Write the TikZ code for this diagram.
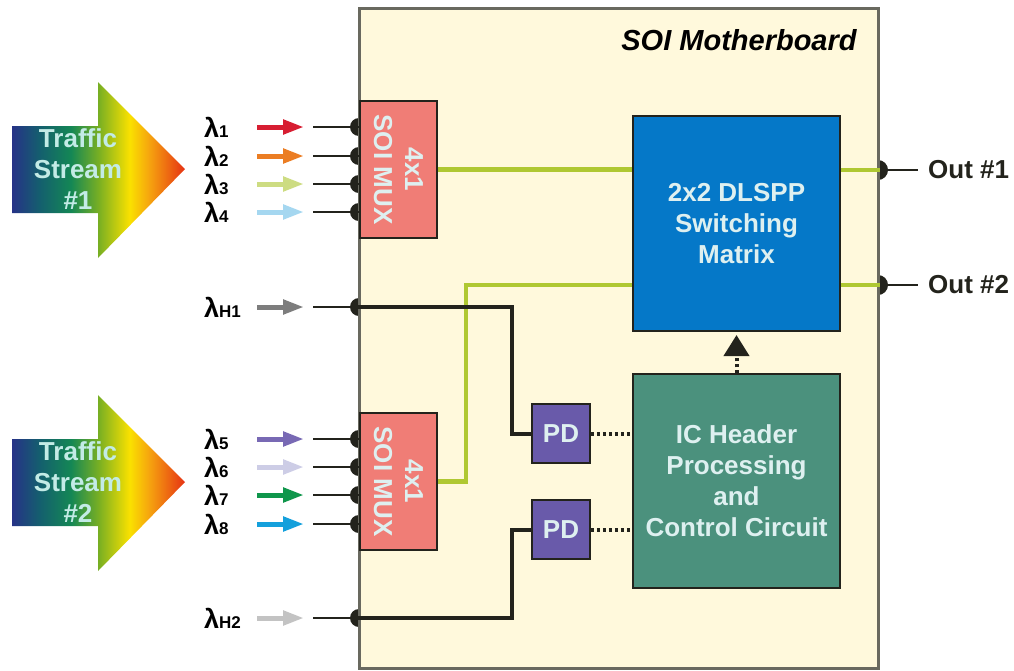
\documentclass[tikz,border=0pt]{standalone}
\usepackage{fontspec}
\setmainfont{Liberation Sans}
\usetikzlibrary{arrows.meta}
\definecolor{boardfill}{RGB}{255,249,220}
\definecolor{boardline}{RGB}{105,105,95}
\definecolor{muxred}{RGB}{240,125,118}
\definecolor{switchblue}{RGB}{5,120,200}
\definecolor{hdrgreen}{RGB}{75,145,125}
\definecolor{pdpurple}{RGB}{105,90,170}
\definecolor{fibergreen}{RGB}{175,200,50}
\definecolor{wiredark}{RGB}{35,35,28}
\definecolor{paletext}{RGB}{222,240,240}
\definecolor{streamtext}{RGB}{195,235,230}
\definecolor{gA}{RGB}{38,50,135}
\definecolor{gB}{RGB}{20,95,110}
\definecolor{gC}{RGB}{20,135,85}
\definecolor{gD}{RGB}{120,175,35}
\definecolor{gE}{RGB}{250,225,0}
\definecolor{gF}{RGB}{245,160,15}
\definecolor{gG}{RGB}{230,50,20}
\definecolor{lamA}{RGB}{215,30,50}
\definecolor{lamB}{RGB}{235,125,35}
\definecolor{lamC}{RGB}{205,220,130}
\definecolor{lamD}{RGB}{165,215,240}
\definecolor{lamE}{RGB}{120,105,180}
\definecolor{lamF}{RGB}{205,205,230}
\definecolor{lamG}{RGB}{15,150,75}
\definecolor{lamH}{RGB}{20,160,220}
\definecolor{lamI}{RGB}{125,125,125}
\definecolor{lamJ}{RGB}{195,195,195}
\pgfdeclarehorizontalshading{streamshade}{100bp}{
color(0bp)=(gA); color(25bp)=(gA); color(33bp)=(gB); color(42bp)=(gC);
color(50bp)=(gD); color(59bp)=(gE); color(65bp)=(gF); color(75bp)=(gG); color(100bp)=(gG)}
\newcommand{\lam}[2]{\fontsize{27}{30}\selectfont λ\fontsize{#2}{20}\selectfont #1}
\tikzset{
  txt/.style={font=\bfseries\fontsize{26}{31}\selectfont, align=center, inner sep=0pt},
  block/.style={txt, draw=wiredark, line width=1.5pt, text=paletext, inner sep=0pt},
  portdot/.style={circle, fill=wiredark, minimum size=18pt, inner sep=0pt},
  stub/.style={draw=wiredark, line width=2.5pt},
  fiber/.style={draw=fibergreen, line width=4.5pt},
  wire/.style={draw=wiredark, line width=4pt},
  ctrl/.style={draw=wiredark, line width=4pt, dash pattern=on 3pt off 3pt}
}
\begin{document}
\begin{tikzpicture}[x=1pt,y=-1pt]
\useasboundingbox (0,0) rectangle (1014,670);

% Traffic arrows
\foreach \y/\val in {169/1,482/2}{
\begin{scope}[shift={(0,\y)}]
\clip (12,-43) -- (98,-43) -- (98,-87) -- (185,0) -- (98,89) -- (98,44) -- (12,44) -- cycle;
\shade[shading=streamshade] (12,-87) rectangle (185,89);
\end{scope}
\node[txt, text=streamtext] (stream\val) at (78,\y) {Traffic\\Stream\\\#\val};
}

% Ports behind the board
\foreach \id/\y in {a1/127,a2/156,a3/184,a4/212,ah1/307,a5/439,a6/467,a7/495,a8/524,ah2/618}{
\node[portdot] (d\id) at (359,\y) {};
}
\node[portdot, minimum size=20pt] (dout1) at (878,170) {};
\node[portdot, minimum size=20pt] (dout2) at (878,285) {};

% Board
\node[draw=boardline, fill=boardfill, line width=3pt, minimum width=519pt, minimum height=660pt, inner sep=0pt] (board) at (618.5,338) {};
\node[font=\bfseries\itshape\fontsize{29}{30}\selectfont, inner sep=0pt] (boardname) at (739,40) {SOI Motherboard};

% Wavelength inputs
\foreach \id/\y/\val/\col in {
a1/127/1/lamA,
a2/156/2/lamB,
a3/184/3/lamC,
a4/212/4/lamD,
ah1/307/H1/lamI,
a5/439/5/lamE,
a6/467/6/lamF,
a7/495/7/lamG,
a8/524/8/lamH,
ah2/618/H2/lamJ}{
\node[anchor=west, inner sep=0pt] (l\id) at (204,\y) {\bfseries\lam{\val}{17}};
\coordinate (s\id) at (257,\y);
\coordinate (e\id) at (304,\y);
\coordinate (t\id) at (313,\y);
\draw[\col, line width=5pt, -{Triangle[length=21pt,width=14pt]}] (s\id) -- (e\id);
\draw[stub] (t\id) -- (d\id.center);
}

% Blocks
\node[block, fill=muxred, rotate=-90, minimum width=137pt, minimum height=77pt] (mux1) at (398.5,169.5) {4x1\\SOI MUX};
\node[block, fill=muxred, rotate=-90, minimum width=137pt, minimum height=77pt] (mux2) at (398.5,481.5) {4x1\\SOI MUX};
\node[block, fill=switchblue, minimum width=207pt, minimum height=215pt, text depth=-4pt] (switch) at (736.5,223.5) {2x2 DLSPP\\Switching\\Matrix};
\node[block, fill=hdrgreen, minimum width=207pt, minimum height=214pt, text depth=-4pt] (hdr) at (736.5,481) {IC Header\\Processing\\and\\Control Circuit};
\node[block, fill=pdpurple, minimum width=58pt, minimum height=59pt] (pd1) at (561,433.5) {PD};
\node[block, fill=pdpurple, minimum width=58pt, minimum height=59pt] (pd2) at (561,529.5) {PD};

% Outputs
\node[txt, anchor=west] (out1) at (928,170) {\textcolor{wiredark}{Out \#1}};
\node[txt, anchor=west] (out2) at (928,285) {\textcolor{wiredark}{Out \#2}};
\draw[stub, shorten >=10pt] (dout1.center) -- (out1.west);
\draw[stub, shorten >=10pt] (dout2.center) -- (out2.west);

% Green paths
\coordinate (bendm) at (466,285);
\draw[fiber] (mux1.north) -- (mux1.north -| switch.west);
\draw[fiber] (mux2.north) -| (bendm) -- (bendm -| switch.west);
\draw[fiber] (switch.east |- dout1) -- (board.east |- dout1);
\draw[fiber] (switch.east |- dout2) -- (board.east |- dout2);

% Header paths
\coordinate (bend1) at (512,433.5);
\coordinate (bend2) at (512,529.5);
\draw[wire] (board.west |- dah1) -| (bend1) -- (pd1.west);
\draw[wire] (board.west |- dah2) -| (bend2) -- (pd2.west);

% Control
\coordinate (ctrltip) at (736.5,335);
\draw[ctrl] (pd1.east) -- (hdr.west |- pd1);
\draw[ctrl] (pd2.east) -- (hdr.west |- pd2);
\draw[ctrl, -{Triangle[length=21pt,width=25pt]}] (hdr.north) -- (ctrltip);

\end{tikzpicture}
\end{document}
